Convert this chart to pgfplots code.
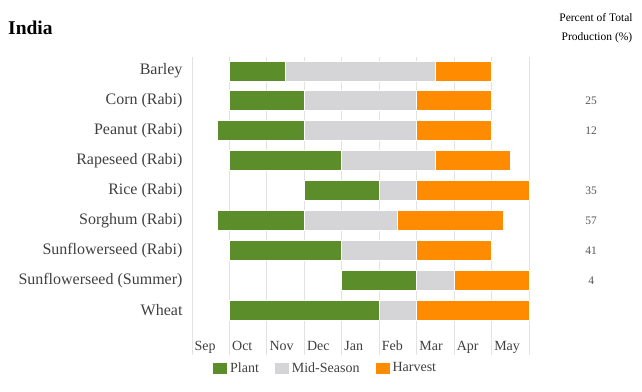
\documentclass[border=0pt]{standalone}
\usepackage{pgfplots}
\pgfplotsset{compat=1.18}
\usepackage{pgfplotstable}
\usepackage{fontspec}
\setmainfont{Liberation Serif}
\definecolor{plant}{HTML}{5B8E2A}
\definecolor{mid}{HTML}{D5D4D6}
\definecolor{harv}{HTML}{FF8C00}
\definecolor{gridc}{HTML}{E2E2E2}
\definecolor{labc}{HTML}{404040}
\definecolor{numc}{HTML}{555555}

\pgfplotstableread{
idx start plant mid harvest
1 1.00 1.50 4.00 1.50
2 1.00 2.00 3.00 2.00
3 0.67 2.33 3.00 2.00
4 1.00 3.00 2.50 2.00
5 3.00 2.00 1.00 3.00
6 0.67 2.33 2.50 2.83
7 1.00 3.00 2.00 2.00
8 4.00 2.00 1.00 2.00
9 1.00 4.00 1.00 3.00
}\data

\begin{document}
\begin{tikzpicture}
\useasboundingbox (0pt,0pt) rectangle (642pt,391pt);
\node[anchor=base west, inner sep=0, font=\fontsize{19.5}{22}\selectfont\bfseries] at (8pt,356pt) {India};
\node[anchor=base, inner sep=0, font=\fontsize{11.5}{14}\selectfont] at (596pt,369pt) {Percent of Total};
\node[anchor=base, inner sep=0, font=\fontsize{11.5}{14}\selectfont] at (597pt,350pt) {Production (\%)};
\begin{axis}[
  at={(360.5pt,185pt)}, anchor=center,
  scale only axis, width=337pt, height=298pt,
  xmin=0, xmax=9, ymin=0.53, ymax=10.5,
  y dir=reverse,
  xbar stacked, bar width=20pt,
  ytick={1,...,9},
  yticklabels={Barley,Corn (Rabi),Peanut (Rabi),Rapeseed (Rabi),Rice (Rabi),Sorghum (Rabi),Sunflowerseed (Rabi),Sunflowerseed (Summer),Wheat},
  yticklabel style={font=\fontsize{16}{18}\selectfont, text=labc, xshift=-6pt},
  xtick={0,...,9}, xticklabels={},
  xmajorgrids,
  major grid style={draw=gridc, line width=0.9pt},
  axis line style={draw=none},
  major tick length=0,
  clip=false,
  legend columns=3,
  legend style={draw=none, at={(0.395,-0.044)}, anchor=center,
    font=\fontsize{14}{16}\selectfont, text=labc,
    /tikz/every even column/.append style={column sep=13pt}},
  legend image code/.code={\fill[#1] (0pt,-6pt) rectangle (15pt,6pt);},
]
\addplot[draw=none, fill=none, forget plot] table[x=start, y=idx]{\data};
\addplot[fill=plant, draw=white, line width=1pt] table[x=plant, y=idx]{\data};
\addplot[fill=mid, draw=white, line width=1pt] table[x=mid, y=idx]{\data};
\addplot[fill=harv, draw=white, line width=1pt] table[x=harvest, y=idx]{\data};
\legend{Plant,Mid-Season,Harvest}
\node[anchor=base west, inner sep=0, font=\fontsize{14}{16}\selectfont, text=labc, xshift=2.5pt] at (axis cs:0,10.36) {Sep};
\node[anchor=base west, inner sep=0, font=\fontsize{14}{16}\selectfont, text=labc, xshift=2.5pt] at (axis cs:1,10.36) {Oct};
\node[anchor=base west, inner sep=0, font=\fontsize{14}{16}\selectfont, text=labc, xshift=2.5pt] at (axis cs:2,10.36) {Nov};
\node[anchor=base west, inner sep=0, font=\fontsize{14}{16}\selectfont, text=labc, xshift=2.5pt] at (axis cs:3,10.36) {Dec};
\node[anchor=base west, inner sep=0, font=\fontsize{14}{16}\selectfont, text=labc, xshift=2.5pt] at (axis cs:4,10.36) {Jan};
\node[anchor=base west, inner sep=0, font=\fontsize{14}{16}\selectfont, text=labc, xshift=2.5pt] at (axis cs:5,10.36) {Feb};
\node[anchor=base west, inner sep=0, font=\fontsize{14}{16}\selectfont, text=labc, xshift=2.5pt] at (axis cs:6,10.36) {Mar};
\node[anchor=base west, inner sep=0, font=\fontsize{14}{16}\selectfont, text=labc, xshift=2.5pt] at (axis cs:7,10.36) {Apr};
\node[anchor=base west, inner sep=0, font=\fontsize{14}{16}\selectfont, text=labc, xshift=2.5pt] at (axis cs:8,10.36) {May};
\node[font=\fontsize{11.5}{13}\selectfont, text=numc] at (axis cs:10.66,2) {25};
\node[font=\fontsize{11.5}{13}\selectfont, text=numc] at (axis cs:10.66,3) {12};
\node[font=\fontsize{11.5}{13}\selectfont, text=numc] at (axis cs:10.66,5) {35};
\node[font=\fontsize{11.5}{13}\selectfont, text=numc] at (axis cs:10.66,6) {57};
\node[font=\fontsize{11.5}{13}\selectfont, text=numc] at (axis cs:10.66,7) {41};
\node[font=\fontsize{11.5}{13}\selectfont, text=numc] at (axis cs:10.66,8) {4};
\end{axis}
\end{tikzpicture}
\end{document}
